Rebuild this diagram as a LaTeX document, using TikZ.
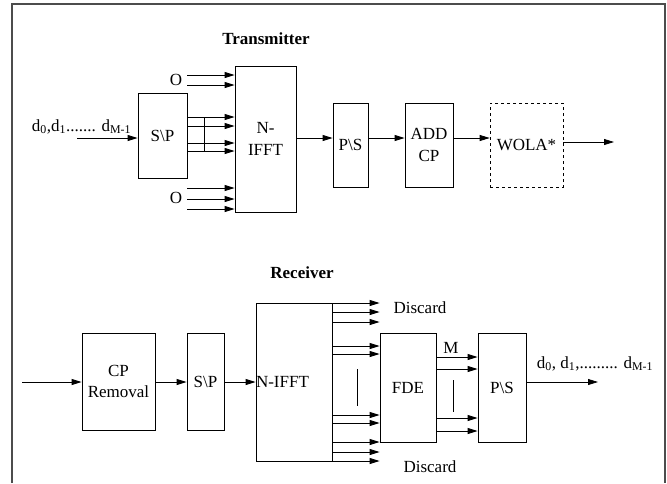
\documentclass[tikz,border=0pt]{standalone}
\usepackage{fontspec}
\setmainfont{Liberation Serif}
\usetikzlibrary{arrows.meta}

\begin{document}
\begin{tikzpicture}[x=1pt, y=-1pt, line width=0.8pt,
	every node/.style={font=\fontsize{17}{21.5}\selectfont, inner sep=0pt},
	blk/.style={draw, align=center},
	arr/.style={-{Triangle[length=10pt, width=6pt]}},
	frame/.style={draw=black!70, line width=1.2pt}]
	\useasboundingbox (0, 0) rectangle (667, 483);
	% Frame:
	\draw[frame] (12, 483) -- (12, 4) -- (665, 4) -- (665, 483);
	% Transmitter:
	\node[font=\fontsize{17}{21.5}\selectfont\bfseries] (ttitle) at (266, 39) {Transmitter};
	\node[blk, minimum width=49pt, minimum height=85pt] (tSP) at (162.5, 135.5) {S\textbackslash P};
	\node[blk, minimum width=61pt, minimum height=146pt] (tIFFT) at (265.5, 139) {N-\\IFFT};
	\node[blk, minimum width=35pt, minimum height=84pt] (tPS) at (350.5, 145) {P\textbackslash S};
	\node[blk, minimum width=48pt, minimum height=84pt] (tADD) at (429, 145) {ADD\\CP};
	\node[blk, dashed, line width=0.6pt, minimum width=73pt, minimum height=84pt] (tWOLA) at (526.5, 145) {WOLA*};
	\coordinate (tin) at (77, 138);
	\coordinate (tout) at (614, 142);
	\node[anchor=base] (tinlbl) at (81.5, 131) {d\textsubscript{0},d\textsubscript{1}....... d\textsubscript{M-1}};
	\node (tO1) at (176, 80) {O};
	\node (tO2) at (176, 198) {O};
	\draw[arr] (tin) -- (tin -| tSP.west);
	\foreach \y in {75, 85, 188, 199, 209}
		\draw[arr] (tSP.east |- 0, \y) -- (tIFFT.west |- 0, \y);
	\foreach \y in {117, 126, 143, 151}
		\draw[arr] (tSP.east |- 0, \y) -- (tIFFT.west |- 0, \y);
	\draw (204, 117) -- (204, 151);
	\draw[arr] (tIFFT.east |- tin) -- (tPS.west |- tin);
	\draw[arr] (tPS.east |- tin) -- (tADD.west |- tin);
	\draw[arr] (tADD.east |- tin) -- (tWOLA.west |- tin);
	\draw[arr] (tWOLA.east |- tout) -- (tout);
	% Receiver:
	\node[font=\fontsize{17}{21.5}\selectfont\bfseries] (rtitle) at (302, 273) {Receiver};
	\node[blk, minimum width=73pt, minimum height=97pt] (rCP) at (118.5, 381.5) {CP\\Removal};
	\node[blk, minimum width=37pt, minimum height=97pt] (rSP) at (205.5, 381.5) {S\textbackslash P};
	\node[blk, minimum width=76pt, minimum height=158pt] (rIFFT) at (294, 382) {};
	\node[anchor=west] (rIFFTlbl) at (rIFFT.west) {N-IFFT};
	\node[blk, minimum width=56pt, minimum height=109pt] (rFDE) at (408, 387.5) {FDE};
	\node[blk, minimum width=48pt, minimum height=109pt] (rPS) at (502, 387.5) {P\textbackslash S};
	\coordinate (rin) at (22, 382);
	\coordinate (rout) at (598, 382);
	\node (rdis1) at (420, 308) {Discard};
	\node (rdis2) at (430, 467) {Discard};
	\node (rM) at (451, 348) {M};
	\node[anchor=base] (routlbl) at (595, 368) {d\textsubscript{0}, d\textsubscript{1},......... d\textsubscript{M-1}};
	\draw[arr] (rin) -- (rCP.west |- rin);
	\draw[arr] (rCP.east |- rin) -- (rSP.west |- rin);
	\draw[arr] (rSP.east |- rin) -- (rIFFT.west |- rin);
	\foreach \y in {303, 312, 322, 346, 354, 415, 423, 442, 452, 461}
		\draw[arr] (rIFFT.east |- 0, \y) -- (rFDE.west |- 0, \y);
	\draw (357, 369) -- (357, 406);
	\foreach \y in {357, 369, 418, 431}
		\draw[arr] (rFDE.east |- 0, \y) -- (rPS.west |- 0, \y);
	\draw (453, 380) -- (453, 412);
	\draw[arr] (rPS.east |- rout) -- (rout);
\end{tikzpicture}
\end{document}
